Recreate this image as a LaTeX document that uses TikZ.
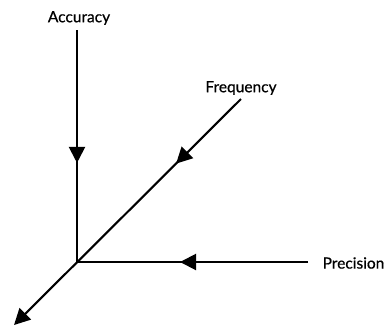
\documentclass[tikz,border=0pt]{standalone}
\usepackage{fontspec}
\newfontfamily\lblfont{Lato}[FakeBold=0.6]
\usetikzlibrary{arrows.meta,decorations.markings}
\tikzset{
  axis/.style={line width=2.1pt, black},
  midtip/.style={postaction={decorate}, decoration={markings,
     mark=at position #1 with {\arrow{Triangle[length=16pt,width=16pt]}}}},
  lbl/.style={font=\lblfont\fontsize{15.5}{18}\selectfont, inner sep=0pt}
}
\begin{document}
\begin{tikzpicture}[x=1pt,y=-1pt]
\useasboundingbox (0,0) rectangle (388,325);
\coordinate (O) at (77,262);
\coordinate (A) at (77,30);
\coordinate (F) at (241,99);
\coordinate (P) at (308,262);
\coordinate (E) at (14,325);
\node[lbl] (acc) at (79,18) {Accuracy};
\node[lbl] (freq) at (241,88) {Frequency};
\node[lbl] (prec) at (353.5,263) {Precision};
\draw[axis, midtip=0.573] (A) -- (O);
\draw[axis, midtip=0.554] (P) -- (O);
\draw[axis, midtip=0.286, -{Triangle[length=16pt,width=16pt]}] (F) -- (E);
\end{tikzpicture}
\end{document}
